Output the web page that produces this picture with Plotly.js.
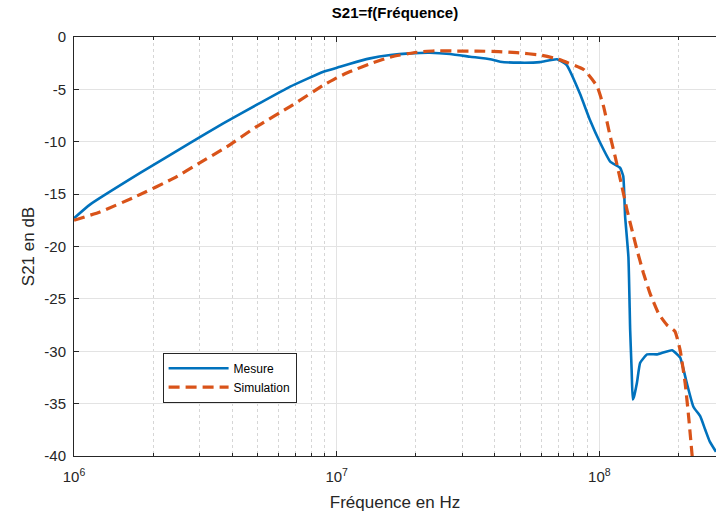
<!DOCTYPE html>
<html>
<head>
<meta charset="utf-8">
<script src="https://cdn.plot.ly/plotly-3.0.1.min.js"></script>
<style>html,body{margin:0;padding:0;background:#fff;}#chart{width:716px;height:518px;}</style>
</head>
<body>
<div id="chart"></div>
<script>
// Mesure (measured S21, dB) vs frequency (Hz)
const mesureFreq = [1.0e6, 1.15e6, 1.78e6, 2.77e6, 3.7e6, 4.95e6, 6.65e6, 8.9e6, 1.03e7, 1.125e7, 1.34e7, 1.6e7, 1.9e7, 2.26e7, 2.7e7, 3.22e7, 3.84e7, 4.19e7, 4.99e7, 5.94e7, 6.9e7, 7.5e7, 8.43e7, 9.2e7, 1.007e8, 1.1e8, 1.2e8, 1.233e8, 1.253e8, 1.29e8, 1.31e8, 1.327e8, 1.34e8, 1.352e8, 1.39e8, 1.43e8, 1.52e8, 1.66e8, 1.89e8, 2.03e8, 2.15e8, 2.28e8, 2.42e8, 2.53e8, 2.63e8, 2.78e8];
const mesureDb   = [-17.3, -16.0, -13.0, -10.1, -8.24, -6.49, -4.74, -3.31, -2.85, -2.55, -2.04, -1.72, -1.56, -1.5, -1.62, -1.88, -2.13, -2.36, -2.45, -2.4, -2.13, -2.67, -5.4, -7.9, -10.1, -11.9, -12.5, -13.3, -17.1, -21, -28, -31.8, -34.6, -34.4, -33, -31.1, -30.3, -30.3, -29.9, -30.6, -33, -35.3, -36.2, -37.5, -38.6, -39.6];

// Simulation (simulated S21, dB) vs frequency (Hz)
const simFreq = [1.0e6, 1.256e6, 1.73e6, 2.39e6, 3.02e6, 3.81e6, 4.95e6, 6.64e6, 8.9e6, 1.0e7, 1.125e7, 1.38e7, 1.62e7, 1.96e7, 2.37e7, 2.82e7, 3.42e7, 4.13e7, 4.85e7, 5.94e7, 6.98e7, 8.71e7, 9.8e7, 1.038e8, 1.1e8, 1.148e8, 1.219e8, 1.274e8, 1.33e8, 1.39e8, 1.47e8, 1.56e8, 1.68e8, 1.81e8, 1.94e8, 2.03e8, 2.12e8, 2.18e8, 2.21e8, 2.265e8];
const simDb   = [-17.5, -16.7, -15.2, -13.5, -12.0, -10.5, -8.56, -6.65, -4.6, -3.9, -3.3, -2.45, -1.88, -1.5, -1.31, -1.34, -1.34, -1.4, -1.5, -1.72, -2.13, -3.1, -4.7, -6.65, -9.5, -11.4, -14.3, -16.5, -18.4, -20.3, -22.5, -24.5, -26.4, -27.5, -28.1, -29.9, -33, -35.9, -37.5, -40.5];

const xMajorTicks = [1e6, 1e7, 1e8];
const xMajorLabels = ['10<sup>6</sup>', '10<sup>7</sup>', '10<sup>8</sup>'];
const xMinorTicks = [2e6,3e6,4e6,5e6,6e6,7e6,8e6,9e6,2e7,3e7,4e7,5e7,6e7,7e7,8e7,9e7,2e8,3e8];
const yTicks = [-40, -35, -30, -25, -20, -15, -10, -5, 0];
const yTickLabels = ['-40', '-35', '-30', '-25', '-20', '-15', '-10', '-5', '0'];
const seriesNames = ['Mesure', 'Simulation'];

const fontFam = '"Liberation Sans", Arial, Helvetica, sans-serif';

const traces = [
  {x: mesureFreq, y: mesureDb, name: seriesNames[0], mode: 'lines',
   line: {color: '#0072BD', width: 2.6, shape: 'spline', smoothing: 0.4}},
  {x: simFreq, y: simDb, name: seriesNames[1], mode: 'lines',
   line: {color: '#D95319', width: 3.2, dash: '11px,6px', shape: 'spline', smoothing: 0.4}}
];

const layout = {
  width: 716, height: 518,
  margin: {l: 74, r: 0, t: 37, b: 62},
  paper_bgcolor: '#fff', plot_bgcolor: '#fff',
  font: {family: fontFam, color: '#262626', size: 15},
  title: {text: '<b>S21=f(Fréquence)</b>', font: {size: 15, color: '#000', family: fontFam}, xref: 'paper', x: 0.5, xanchor: 'center', y: 0.985, yanchor: 'top'},
  xaxis: {
    type: 'log', range: [6, 8.444],
    tickvals: xMajorTicks, ticktext: xMajorLabels,
    ticks: 'inside', ticklen: 5, tickcolor: '#262626', ticklabelstandoff: 7,
    showline: true, linecolor: '#262626', linewidth: 1, mirror: 'ticks',
    showgrid: true, gridcolor: '#e3e3e3', gridwidth: 1,
    minor: {tickvals: xMinorTicks, ticks: 'inside', ticklen: 3, tickcolor: '#262626', showgrid: true, gridcolor: '#d6d6d6', griddash: 'dot', gridwidth: 1},
    tickfont: {size: 15, color: '#262626'},
    title: {text: 'Fréquence en Hz', font: {size: 17, color: '#262626'}, standoff: 12},
    zeroline: false
  },
  yaxis: {
    range: [-40, 0], tickvals: yTicks, ticktext: yTickLabels,
    ticks: 'inside', ticklen: 5, tickcolor: '#262626', ticklabelstandoff: 4,
    showline: true, linecolor: '#262626', linewidth: 1, mirror: false,
    showgrid: true, gridcolor: '#e3e3e3', gridwidth: 1,
    tickfont: {size: 15, color: '#262626'},
    title: {text: 'S21 en dB', font: {size: 17, color: '#262626'}, standoff: 5},
    zeroline: false
  },
  showlegend: true,
  legend: {x: 0.138, y: 0.2465, xanchor: 'left', yanchor: 'top',
    bgcolor: '#fff', bordercolor: '#262626', borderwidth: 1,
    font: {size: 12, color: '#000'}, tracegroupgap: 0, itemwidth: 60}
};

Plotly.newPlot('chart', traces, layout, {displayModeBar: false, staticPlot: true});
</script>
</body>
</html>
